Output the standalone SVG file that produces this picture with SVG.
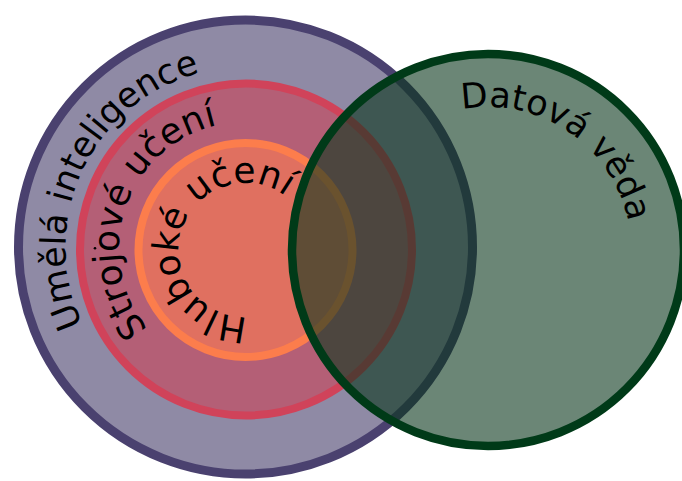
<svg xmlns="http://www.w3.org/2000/svg" xmlns:xlink="http://www.w3.org/1999/xlink" width="682" height="481" viewBox="0 0 682 481">
<style>
.lbl{font-family:"DejaVu Sans","Noto Sans",sans-serif;fill:#000}
</style>
<defs>
<path id="pAI" d="M83,324.5 A180,180 0 1 1 408,169.5 A180,180 0 1 1 83,324.5"/>
<path id="pML" d="M148.1,328.8 A126,126 0 1 1 343.9,170.2 A126,126 0 1 1 148.1,328.8"/>
<path id="pDL" d="M247.8,317 A67,67 0 1 1 243.2,183 A67,67 0 1 1 247.8,317"/>
<path id="pDS" d="M461.9,109.4 A143,143 0 1 1 514.1,390.6 A143,143 0 1 1 461.9,109.4"/>
</defs>
<rect width="682" height="481" fill="#fff"/>
<g id="ai">
<circle cx="245.5" cy="247" r="227" fill="#8f8aa5" stroke="#4a416f" stroke-width="9"/>
<text class="lbl" font-size="35"><textPath xlink:href="#pAI" href="#pAI">Umělá inteligence</textPath></text>
</g>
<g id="ml">
<circle cx="246" cy="249.5" r="166" fill="#b45f76" stroke="#d0435a" stroke-width="8"/>
<text class="lbl" font-size="36"><textPath xlink:href="#pML" href="#pML">Strojové učení</textPath></text>
</g>
<g id="dl">
<circle cx="245.5" cy="250" r="107" fill="#e07060" stroke="#fc7d4c" stroke-width="8"/>
<text class="lbl" font-size="36"><textPath xlink:href="#pDL" href="#pDL">Hluboké učení</textPath></text>
</g>
<circle cx="95" cy="248.3" r="1.3" fill="#000"/>
<g id="ds">
<circle cx="488" cy="250" r="196" fill="#08351b" fill-opacity="0.6" stroke="#003a18" stroke-width="8.5"/>
<text class="lbl" font-size="35"><textPath xlink:href="#pDS" href="#pDS">Datová věda</textPath></text>
</g>
</svg>
